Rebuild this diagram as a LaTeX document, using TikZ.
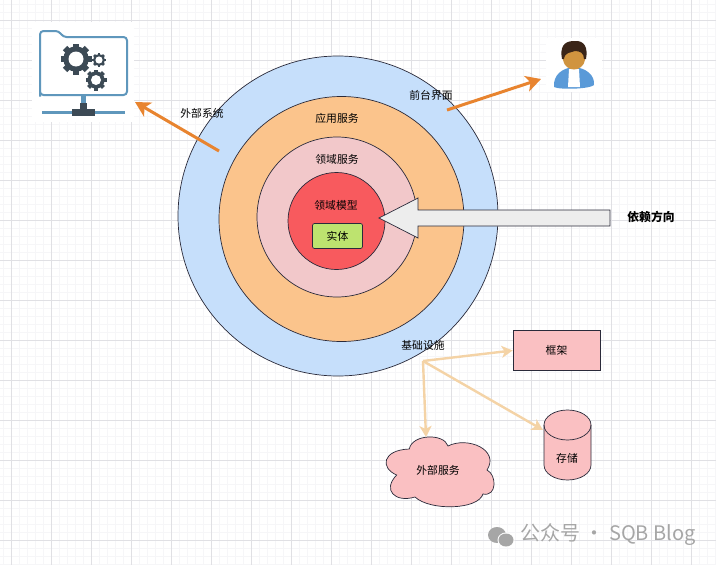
\documentclass[tikz,border=0pt]{standalone}
\usepackage{fontspec}
\setmainfont{Noto Sans CJK SC}
\usetikzlibrary{arrows.meta}
\definecolor{gridminor}{HTML}{F6F6F8}
\definecolor{gridmajor}{HTML}{E0E0E4}
\definecolor{ringblue}{HTML}{C6DFFB}
\definecolor{ringorange}{HTML}{FBC48C}
\definecolor{ringpink}{HTML}{F2C8CA}
\definecolor{corered}{HTML}{F85A5E}
\definecolor{entitygreen}{HTML}{BDE36F}
\definecolor{boxpink}{HTML}{FAC0C2}
\definecolor{edgeink}{HTML}{2A2A3A}
\definecolor{strongarrow}{HTML}{E8842F}
\definecolor{softarrow}{HTML}{F4D3A6}
\definecolor{iconblue}{HTML}{5F97BC}
\definecolor{icondark}{HTML}{3C4A55}
\definecolor{wmgray}{HTML}{A6A6A6}
\definecolor{hair}{HTML}{3A2518}
\definecolor{skin}{HTML}{D0943F}
\definecolor{coat}{HTML}{5A9AD8}
\tikzset{
  x=1pt,y=-1pt,
  ring/.style={circle,draw=edgeink,line width=0.7pt,inner sep=0pt},
  caption/.style={font=\fontsize{10.8}{12}\selectfont,text=black,inner sep=0pt},
  strong/.style={draw=strongarrow,line width=3pt,-{Stealth[length=15pt,width=16pt,inset=4pt]}},
  soft/.style={draw=softarrow,line width=2.4pt,-{Stealth[length=11pt,width=12pt,inset=3pt]}},
  pinkshape/.style={fill=boxpink,draw=edgeink,line width=0.7pt},
}
\newcommand{\gearicon}[4]{% x,y,r,hole
  \fill[icondark] (#1,#2) circle[radius=#3*0.82];
  \foreach \a in {0,45,...,315}{
    \fill[icondark,rotate around={\a:(#1,#2)}] (#1+#3*0.7,#2-#3*0.2) rectangle (#1+#3,#2+#3*0.2);
  }
  \fill[white] (#1,#2) circle[radius=#4];
}
\begin{document}
\begin{tikzpicture}
\useasboundingbox (0,0) rectangle (716,565);
\fill[white] (0,0) rectangle (716,565);
% grid
\foreach \v in {3,11,...,715}{\draw[gridminor,line width=0.5pt] (\v,0) -- (\v,565);}
\foreach \v in {4,12,...,564}{\draw[gridminor,line width=0.5pt] (0,\v) -- (716,\v);}
\foreach \v in {11,51,...,691}{\draw[gridmajor,line width=0.7pt] (\v,0) -- (\v,565);}
\foreach \v in {20,60,...,540}{\draw[gridmajor,line width=0.7pt] (0,\v) -- (716,\v);}
\fill[white] (32,22) rectangle (134,122);
\fill[white] (546,38) rectangle (602,92);
% rings
\node[ring,fill=ringblue,minimum size=320pt] (outer) at (338,216) {};
\node[ring,fill=ringorange,minimum size=245pt] (app) at (341.5,219) {};
\node[ring,fill=ringpink,minimum size=160pt] (domain) at (337,217) {};
\node[ring,fill=corered,minimum size=97pt] (core) at (336.5,221) {};
\node[draw=edgeink,line width=0.7pt,fill=entitygreen,rounded corners=2pt,minimum width=50pt,minimum height=25pt,caption] (entity) at (337.5,236) {实体};
\node[caption] (lblcore) at (336,205) {领域模型};
\node[caption] (lbldomain) at (337,159) {领域服务};
\node[caption] (lblapp) at (337,118) {应用服务};
\node[caption] (lblext) at (202,113) {外部系统};
\node[caption] (lblfront) at (431,95) {前台界面};
\node[caption] (lblinfra) at (423,345) {基础设施};
% wide dependency arrow
\draw[fill=gray!14,draw=edgeink,line width=0.7pt,line join=miter]
  (610,210) -- (418,210) -- (418,198) -- (379,218) -- (418,238) -- (418,226) -- (610,226) -- cycle;
\node[font=\fontsize{11.8}{13}\selectfont\bfseries,inner sep=0pt] (dep) at (651,217) {依赖方向};
% external system icon
\draw[iconblue,line width=2pt,rounded corners=3.5pt,fill=white]
  (40,93) -- (40,31) -- (59,31) -- (63,37) -- (127,37) -- (127,95) -- (40,95) -- cycle;
\gearicon{76}{59}{15.5}{7.5}
\gearicon{99}{60}{7}{3.6}
\gearicon{96}{80}{10.5}{5}
\fill[iconblue] (81,95) rectangle (86,104);
\draw[iconblue,line width=3pt] (42,112.5) -- (125,112.5);
\fill[icondark] (80,103) rectangle (87,110);
\fill[icondark] (72,109) rectangle (95,116);
\coordinate (extsys) at (135,102);
\coordinate (extfrom) at (219,151);
% user icon
\fill[coat] (554,87) .. controls (553,75) and (562,68) .. (574,67) .. controls (586,68) and (595,75) .. (594,85) .. controls (590,89) and (560,90) .. (554,87) -- cycle;
\fill[white] (569,69) -- (579,69) -- (580,87) -- (568,87) -- cycle;
\fill[skin] (574,48) .. controls (583,48) and (586,54) .. (585,60) .. controls (584,66) and (579,69.5) .. (574,69.5) .. controls (569,69.5) and (564,66) .. (563,60) .. controls (562,54) and (565,48) .. (574,48) -- cycle;
\fill[hair] (574,41) .. controls (585,40) and (588,48) .. (586,59) -- (584,59) .. controls (584,53) and (580,51) .. (575,51) .. controls (570,53) and (565,52) .. (564,59) -- (562,59) .. controls (560,48) and (563,41) .. (574,41) -- cycle;
\coordinate (user) at (541,79);
\coordinate (frontfrom) at (447,110);
\draw[strong] (extfrom) -- (extsys);
\draw[strong] (frontfrom) -- (user);
% infrastructure
\node[pinkshape,minimum width=87pt,minimum height=40pt,caption] (frame) at (556.5,350.5) {框架};
\draw[pinkshape] (396.7,475) .. controls (380,468) and (382,450) .. (409.3,449)
  .. controls (412,434) and (444,433) .. (448,446)
  .. controls (468,436) and (500,450) .. (487,470)
  .. controls (497,475) and (497,497) .. (483,494)
  .. controls (478,510) and (430,511) .. (415,497)
  .. controls (395,503) and (382,490) .. (396.7,475) -- cycle;
\node[caption] (cloudsvc) at (438,470) {外部服务};
\draw[pinkshape] (544,425) -- (544,465) .. controls (544,473.3) and (554.5,480) .. (567.5,480) .. controls (580.5,480) and (591,473.3) .. (591,465) -- (591,425) .. controls (591,416.7) and (580.5,410) .. (567.5,410) .. controls (554.5,410) and (544,416.7) .. (544,425) -- cycle;
\draw[edgeink,line width=0.7pt] (544,425) .. controls (544,433.3) and (554.5,440) .. (567.5,440) .. controls (580.5,440) and (591,433.3) .. (591,425);
\node[caption] (store) at (567,458) {存储};
\coordinate (hub) at (423,361);
\coordinate (storetop) at (543,430);
\coordinate (cloudtop) at (426,437);
\draw[soft] (hub) -- (frame.west);
\draw[soft] (hub) -- (storetop);
\draw[soft] (hub) -- (cloudtop);
% watermark
\fill[wmgray] (497,535) ellipse[x radius=9,y radius=8];
\fill[white] (506,540) ellipse[x radius=8.5,y radius=7.5];
\fill[wmgray] (506,540) ellipse[x radius=7.5,y radius=6.5];
\node[anchor=west,inner sep=0pt,text=wmgray,font=\fontsize{20}{22}\selectfont] (wm) at (520,535) {公众号 · SQB Blog};
\end{tikzpicture}
\end{document}
